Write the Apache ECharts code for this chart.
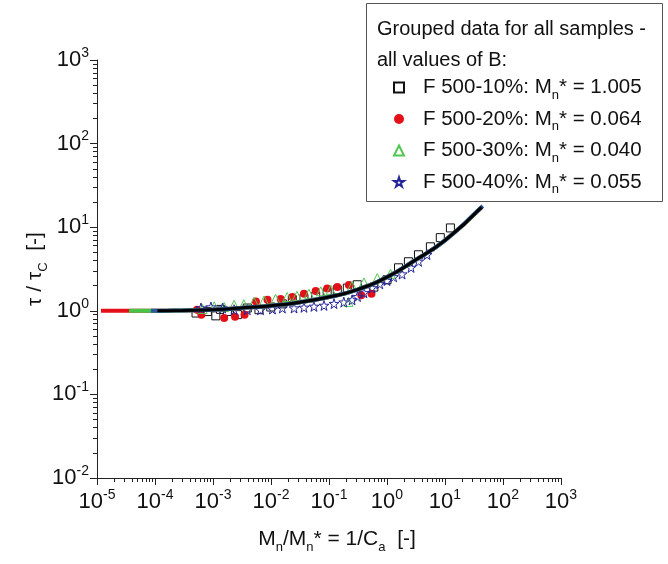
<!DOCTYPE html>
<html>
<head>
<meta charset="utf-8">
<script src="https://cdn.jsdelivr.net/npm/echarts@6/dist/echarts.min.js"></script>
<style>
html, body { margin: 0; padding: 0; background: #fff; }
#chart { width: 668px; height: 564px; }
</style>
</head>
<body>
<div id="chart"></div>
<script>
// values (x = Mn/Mn*, y = tau/tauC)
const seriesNames = ['F 500-10%', 'F 500-20%', 'F 500-30%', 'F 500-40%'];
const mnStar = ['1.005', '0.064', '0.040', '0.055'];

const sq10X = [5.1e-4, 8.0e-4, 1.12e-3, 1.35e-3, 1.77e-3, 2.64e-3, 3.9e-3, 6.2e-3, 9.9e-3, 0.0157, 0.0233, 0.037, 0.059, 0.093, 0.139, 0.207, 0.307, 0.594, 1.0, 1.58, 2.34, 3.49, 5.6, 8.3, 12.4];
const sq10Y = [0.94, 0.98, 0.87, 1.04, 0.98, 0.90, 1.08, 1.03, 1.11, 1.21, 1.36, 1.41, 1.49, 1.66, 1.78, 1.87, 2.05, 1.92, 2.35, 3.27, 3.86, 4.68, 5.83, 7.5, 9.8];

const r20X = [5.3e-4, 6.3e-4, 1.56e-3, 2.4e-3, 3.5e-3, 5.5e-3, 8.7e-3, 0.0147, 0.0233, 0.037, 0.059, 0.093, 0.139, 0.22, 0.36, 0.54];
const r20Y = [1.03, 0.895, 0.82, 0.85, 0.895, 1.29, 1.36, 1.38, 1.46, 1.60, 1.72, 1.85, 1.92, 2.03, 1.53, 1.60];

const g30X = [6.6e-4, 1.05e-3, 1.56e-3, 2.31e-3, 3.4e-3, 5.1e-3, 7.6e-3, 0.012, 0.019, 0.028, 0.045, 0.072, 0.107, 0.217, 0.25, 0.40, 0.68, 1.15];
const g30Y = [1.05, 1.13, 1.11, 1.18, 1.20, 1.28, 1.33, 1.39, 1.46, 1.51, 1.60, 1.71, 1.78, 1.28, 1.99, 2.18, 2.46, 2.77];

const b40X = [6.2e-4, 9.2e-4, 1.46e-3, 2.31e-3, 3.9e-3, 6.6e-3, 0.0106, 0.0157, 0.025, 0.037, 0.055, 0.082, 0.122, 0.18, 0.25, 0.31, 0.40, 0.55, 0.75, 1.0, 1.3, 1.82, 2.6, 3.5, 4.9];
const b40Y = [1.08, 1.11, 1.08, 1.03, 1.03, 1.03, 1.05, 1.08, 1.08, 1.10, 1.13, 1.16, 1.22, 1.27, 1.35, 1.48, 1.64, 1.88, 2.10, 2.30, 2.55, 2.75, 3.3, 3.9, 4.7];

// fitted master curve
const curveX = [1.1e-4, 3e-4, 1e-3, 3e-3, 0.01, 0.03, 0.1, 0.3, 1, 3, 10, 43];
const curveY = [1.0, 1.01, 1.03, 1.08, 1.15, 1.26, 1.46, 1.78, 2.53, 4.0, 6.95, 17.4];
// where the coloured fit lines start on the left plateau
const redStartX = 1.17e-5;
const greenStartX = 3.56e-5;
const blueStartX = 8.5e-5;
const blueEnd = [45, 17.9];

const zip = (xs, ys) => xs.map((x, i) => [x, ys[i]]);
const starPath = 'path://M50,0 L61,35 L98,35 L68,57 L79,91 L50,70 L21,91 L32,57 L2,35 L39,35 Z';

function fitLine(startX) {
    return [[startX, 1]].concat(zip(curveX, curveY));
}

function powLabel(v) {
    const e = Math.round(Math.log10(v));
    return '{b|10}{sup|' + e + '}';
}

const font = 'Liberation Sans';

const labelRich = {
    b: { fontSize: 22, lineHeight: 28, color: '#111', fontFamily: font },
    sup: { fontSize: 14, lineHeight: 14, verticalAlign: 'top', color: '#111', fontFamily: font }
};

const nameRich = {
    b: { fontSize: 21, lineHeight: 30, color: '#111', fontFamily: font },
    sub: { fontSize: 13, lineHeight: 13, verticalAlign: 'bottom', color: '#111', fontFamily: font }
};

const legendRich = {
    t: { fontSize: 20.5, lineHeight: 28, color: '#111', fontFamily: font },
    s: { fontSize: 13, lineHeight: 12, verticalAlign: 'bottom', color: '#111', fontFamily: font }
};

const chart = echarts.init(document.getElementById('chart'));

const axisCommon = {
    type: 'log',
    logBase: 10,
    axisLine: { show: true, lineStyle: { color: '#222', width: 1 } },
    axisTick: { show: true, length: 7, lineStyle: { color: '#222' } },
    minorTick: { show: true, splitNumber: 9, length: 4, lineStyle: { color: '#222' } },
    splitLine: { show: false },
    minorSplitLine: { show: false },
    nameLocation: 'middle',
    nameMoveOverlap: false
};

const option = {
    animation: false,
    backgroundColor: '#fff',
    grid: { left: 97, right: 107, top: 60, bottom: 86 },
    xAxis: Object.assign({}, axisCommon, {
        min: 1e-5,
        max: 1e3,
        splitNumber: 8,
        name: '{b|M}{sub|n}{b|/M}{sub|n}{b|* = 1/C}{sub|a}{b|  [-]}',
        nameGap: 46,
        nameTextStyle: { rich: nameRich, padding: [0, 0, 0, 16] },
        axisLabel: { formatter: powLabel, margin: 10, rich: labelRich }
    }),
    yAxis: Object.assign({}, axisCommon, {
        min: 1e-2,
        max: 1e3,
        splitNumber: 5,
        name: '{b|τ / τ}{sub|C}{b|  [-]}',
        nameGap: 47,
        nameRotate: 90,
        nameTextStyle: { rich: nameRich },
        axisLabel: { formatter: powLabel, margin: 8, rich: labelRich }
    }),
    legend: {
        data: seriesNames,
        orient: 'vertical',
        left: 388,
        top: 72,
        itemWidth: 10,
        itemHeight: 10,
        itemGap: 7,
        selectedMode: false,
        textStyle: { padding: [0, 0, 0, 14], rich: legendRich },
        formatter: name => {
            const i = seriesNames.indexOf(name);
            return '{t|' + name + ': M}{s|n}{t|* = ' + mnStar[i] + '}';
        }
    },
    graphic: [
        {
            type: 'rect',
            shape: { x: 366.5, y: 3.5, width: 296, height: 198 },
            style: { fill: '#fff', stroke: '#555', lineWidth: 1 },
            z: -1
        },
        {
            type: 'text',
            left: 377,
            top: 19,
            style: { text: 'Grouped data for all samples -', font: '20px Liberation Sans', fill: '#111' }
        },
        {
            type: 'text',
            left: 377,
            top: 50,
            style: { text: 'all values of B:', font: '20px Liberation Sans', fill: '#111' }
        }
    ],
    series: [
        {
            name: seriesNames[0],
            type: 'scatter',
            symbol: 'rect',
            symbolSize: 8,
            itemStyle: { color: '#fff', borderColor: '#111', borderWidth: 1, opacity: 1 },
            data: zip(sq10X, sq10Y)
        },
        {
            name: seriesNames[1],
            type: 'scatter',
            symbol: 'circle',
            symbolSize: 8,
            itemStyle: { color: '#e3101a', opacity: 1 },
            data: zip(r20X, r20Y)
        },
        {
            name: seriesNames[2],
            type: 'scatter',
            symbol: 'triangle',
            symbolSize: 9,
            itemStyle: { color: 'transparent', borderColor: '#50c850', borderWidth: 1, opacity: 1 },
            data: zip(g30X, g30Y)
        },
        {
            name: seriesNames[3],
            type: 'scatter',
            symbol: starPath,
            symbolSize: 10,
            itemStyle: { color: 'transparent', borderColor: '#25259a', borderWidth: 1, opacity: 1 },
            data: zip(b40X, b40Y)
        },
        {
            name: 'fit 20%',
            type: 'line',
            smooth: true,
            symbol: 'none',
            lineStyle: { color: '#e3101a', width: 4 },
            data: fitLine(redStartX)
        },
        {
            name: 'fit 30%',
            type: 'line',
            smooth: true,
            symbol: 'none',
            lineStyle: { color: '#47c447', width: 4 },
            data: fitLine(greenStartX)
        },
        {
            name: 'fit 40%',
            type: 'line',
            smooth: true,
            symbol: 'none',
            lineStyle: { color: '#2a5a9c', width: 4 },
            data: fitLine(blueStartX).concat([blueEnd])
        },
        {
            name: 'fit 10%',
            type: 'line',
            smooth: true,
            symbol: 'none',
            lineStyle: { color: '#000', width: 3 },
            data: zip(curveX, curveY)
        }
    ]
};

chart.setOption(option);
</script>
</body>
</html>
